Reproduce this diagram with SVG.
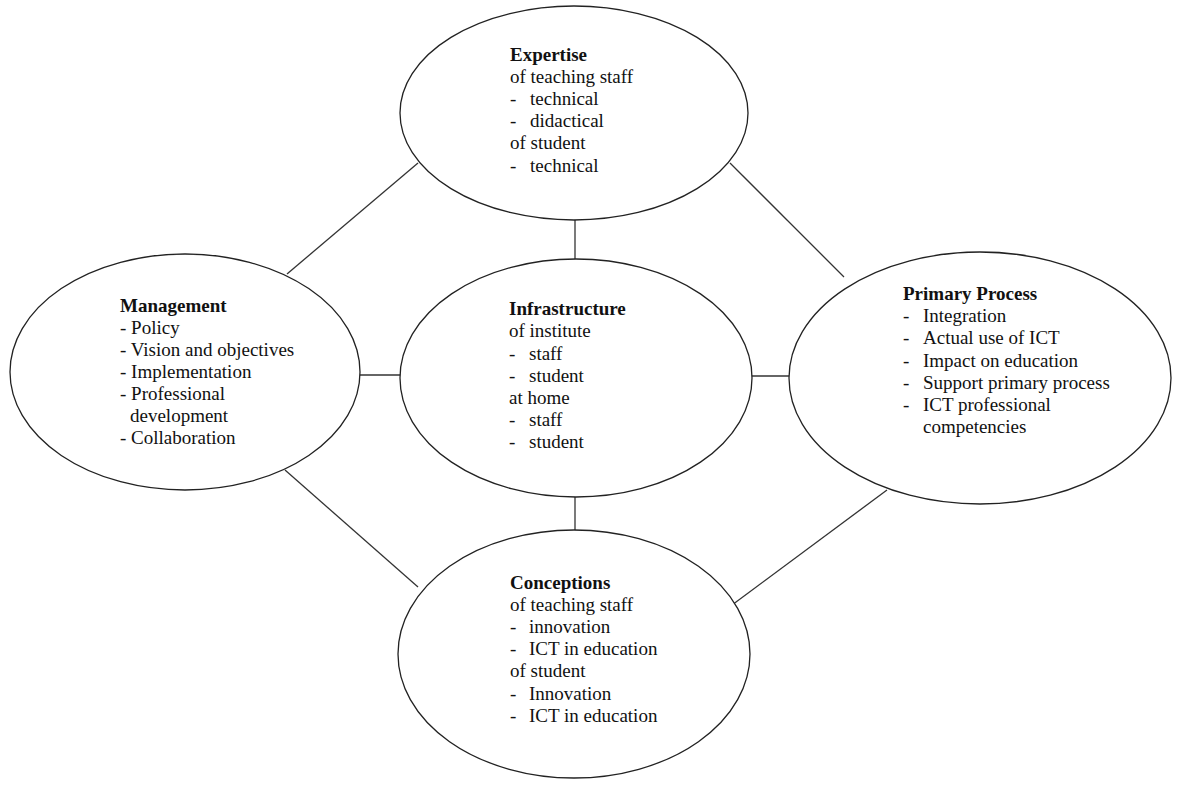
<svg xmlns="http://www.w3.org/2000/svg" width="1177" height="787" viewBox="0 0 1177 787">
<style>
.node ellipse{fill:#fff;stroke:#222;stroke-width:1.3}
.conn line{stroke:#333;stroke-width:1.3}
text{font-family:"Liberation Serif","Times New Roman",serif;font-size:19px;fill:#111}
.t{font-weight:bold}
</style>
<rect width="1177" height="787" fill="#fff"/>
<g id="connectors" class="conn">
<line x1="575" y1="220" x2="575" y2="259"/>
<line x1="575" y1="497" x2="575" y2="531"/>
<line x1="360" y1="375" x2="401" y2="375"/>
<line x1="751" y1="376" x2="789" y2="376"/>
<line x1="418" y1="163" x2="287" y2="274"/>
<line x1="730" y1="163" x2="844" y2="277"/>
<line x1="285" y1="470" x2="418" y2="587"/>
<line x1="887" y1="490" x2="732" y2="605"/>
</g>
<g id="expertise" class="node">
<ellipse cx="574" cy="113" rx="174" ry="107"/>
<text x="510" y="61" class="t">Expertise</text>
<text x="510" y="83">of teaching staff</text>
<text x="510" y="105">-</text><text x="530" y="105">technical</text>
<text x="510" y="127">-</text><text x="530" y="127">didactical</text>
<text x="510" y="149">of student</text>
<text x="510" y="172">-</text><text x="530" y="172">technical</text>
</g>
<g id="management" class="node">
<ellipse cx="185" cy="372" rx="175" ry="118"/>
<text x="120" y="312" class="t">Management</text>
<text x="120" y="334">- Policy</text>
<text x="120" y="356">- Vision and objectives</text>
<text x="120" y="378">- Implementation</text>
<text x="120" y="400">- Professional</text>
<text x="130" y="422">development</text>
<text x="120" y="444">- Collaboration</text>
</g>
<g id="infrastructure" class="node">
<ellipse cx="576" cy="378" rx="176" ry="119"/>
<text x="509" y="315" class="t">Infrastructure</text>
<text x="509" y="337">of institute</text>
<text x="509" y="360">-</text><text x="529" y="360">staff</text>
<text x="509" y="382">-</text><text x="529" y="382">student</text>
<text x="509" y="404">at home</text>
<text x="509" y="426">-</text><text x="529" y="426">staff</text>
<text x="509" y="448">-</text><text x="529" y="448">student</text>
</g>
<g id="primary" class="node">
<ellipse cx="980" cy="378" rx="191" ry="126"/>
<text x="903" y="300" class="t">Primary Process</text>
<text x="903" y="322">-</text><text x="923" y="322">Integration</text>
<text x="903" y="344">-</text><text x="923" y="344">Actual use of ICT</text>
<text x="903" y="367">-</text><text x="923" y="367">Impact on education</text>
<text x="903" y="389">-</text><text x="923" y="389">Support primary process</text>
<text x="903" y="411">-</text><text x="923" y="411">ICT professional</text>
<text x="923" y="433">competencies</text>
</g>
<g id="conceptions" class="node">
<ellipse cx="574" cy="654" rx="176" ry="124"/>
<text x="510" y="589" class="t">Conceptions</text>
<text x="510" y="611">of teaching staff</text>
<text x="510" y="633">-</text><text x="529" y="633">innovation</text>
<text x="510" y="655">-</text><text x="529" y="655">ICT in education</text>
<text x="510" y="677">of student</text>
<text x="510" y="700">-</text><text x="529" y="700">Innovation</text>
<text x="510" y="722">-</text><text x="529" y="722">ICT in education</text>
</g>
</svg>
